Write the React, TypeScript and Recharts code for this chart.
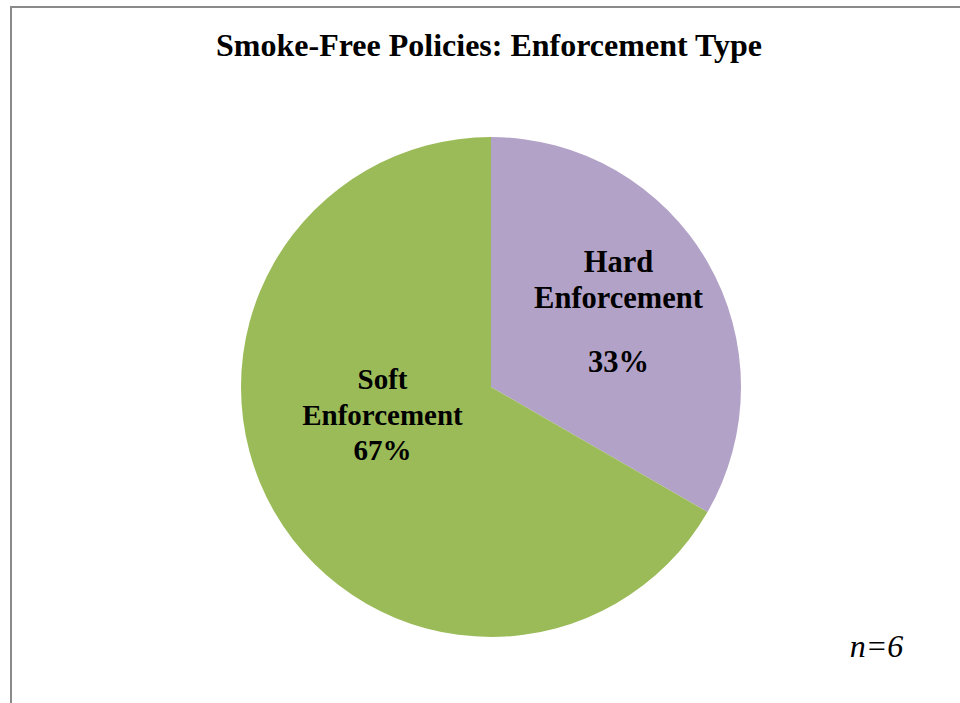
import React from 'react';
import { PieChart, Pie, Cell } from 'recharts';

const categories = ['Hard Enforcement', 'Soft Enforcement'];
const labelLines = [['Hard', 'Enforcement'], ['Soft', 'Enforcement']];
const counts = [2, 4];
const colors = ['#B3A2C7', '#9BBB59'];
const chartTitle = 'Smoke-Free Policies: Enforcement Type';
const sampleNote = 'n=6';

const pieData = categories.map((name, i) => ({ name, value: counts[i], lines: labelLines[i] }));

// where Excel put each data label, in polar terms around the pie centre
const labelPlace = [
  { angle: 30.5, r: 148, size: 30.5, baselines: [-40, -4, 60] },
  { angle: -165.6, r: 112, size: 29, baselines: [-26, 10, 45] },
];

const FONT = "'Liberation Serif', 'Times New Roman', serif";
const RADIAN = Math.PI / 180;

function renderLabel(props: any) {
  const { cx, cy, index, percent, payload } = props;
  const place = labelPlace[index];
  const x = cx + place.r * Math.cos(place.angle * RADIAN);
  const y = cy - place.r * Math.sin(place.angle * RADIAN);
  const texts = [...payload.lines, `${Math.round(percent * 100)}%`];
  return (
    <g>
      {texts.map((t: string, i: number) => (
        <text
          key={i}
          x={x}
          y={y + place.baselines[i]}
          textAnchor="middle"
          style={{ fontFamily: FONT, fontWeight: 700, fontSize: place.size }}
          fill="#000"
        >
          {t}
        </text>
      ))}
    </g>
  );
}

export default function App() {
  return (
    <div style={{ position: 'absolute', left: 0, top: 0, width: 960, height: 703, background: '#fff', overflow: 'hidden' }}>
      <div
        style={{
          position: 'absolute',
          left: 10,
          top: 6,
          width: 980,
          height: 720,
          borderLeft: '2px solid #8a8a8a',
          borderTop: '2px solid #8a8a8a',
        }}
      />
      <div style={{ position: 'absolute', left: 0, top: 0 }}>
        <PieChart width={960} height={703} margin={{ top: 0, right: 0, bottom: 0, left: 0 }}>
          <Pie
            data={pieData}
            dataKey="value"
            nameKey="name"
            cx={491}
            cy={387}
            outerRadius={250}
            startAngle={90}
            endAngle={-270}
            stroke="none"
            labelLine={false}
            label={renderLabel}
            isAnimationActive={false}
          >
            {pieData.map((d, i) => (
              <Cell key={d.name} fill={colors[i]} />
            ))}
          </Pie>
        </PieChart>
      </div>
      <svg width={960} height={703} style={{ position: 'absolute', left: 0, top: 0, pointerEvents: 'none' }}>
        <text x={489} y={56} textAnchor="middle" style={{ fontFamily: FONT, fontWeight: 700, fontSize: 32 }} fill="#000">
          {chartTitle}
        </text>
        <text x={876.5} y={657} textAnchor="middle" style={{ fontFamily: FONT, fontStyle: 'italic', fontSize: 32 }} fill="#000">
          {sampleNote}
        </text>
      </svg>
    </div>
  );
}
